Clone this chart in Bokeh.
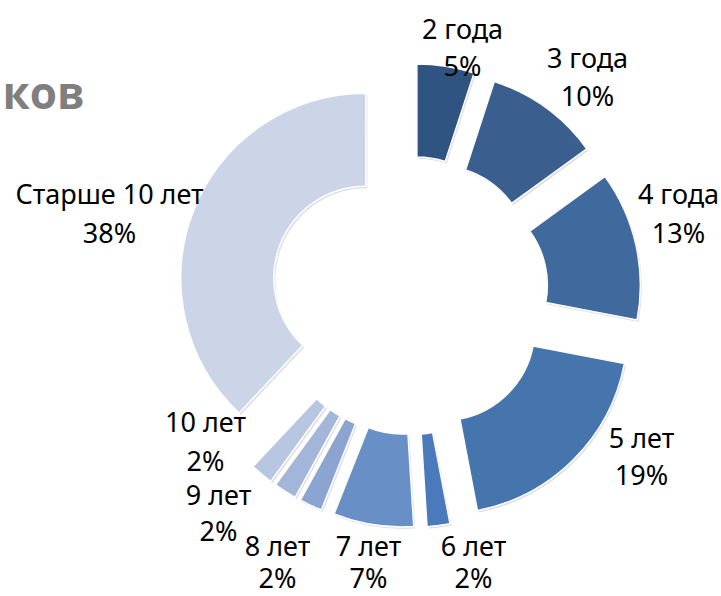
import math
from bokeh.plotting import figure
from bokeh.models import ColumnDataSource
from bokeh.core.properties import value
from bokeh.embed import file_html
from bokeh.resources import INLINE

# ---- data ----
categories = ["2 года", "3 года", "4 года", "5 лет", "6 лет", "7 лет",
              "8 лет", "9 лет", "10 лет", "Старше 10 лет"]
shares = [5, 10, 13, 19, 2, 7, 2, 2, 2, 38]
title_fragment = "ков"

# ---- style / layout ----
colors = ["#2F5481", "#3A5F8F", "#40699E", "#4674AC", "#4A7ABC",
          "#6890C7", "#8CA5D0", "#A3B6D9", "#B8C6E1", "#CBD5E7"]
W, H = 721, 596
CX, CY = 409, 295          # donut centre (screen px)
R_OUT, R_IN = 185, 92
EXPLODE = 47
FONT = "Noto Sans"
# label anchor points (screen px): centre x, first-line y, second-line y
label_x = [462, 587, 678, 641, 473, 368, 277, 218, 205, 109]
label_y1 = [28, 57, 193, 437, 545, 545, 545, 494, 421, 193]
label_y2 = [65, 95, 232, 474, 577, 577, 577, 530, 460, 232]


def sx(x):
    return x


def sy(y):
    return H - y


total = float(sum(shares))
xs, ys, starts, ends, sxs, sys_ = [], [], [], [], [], []
acc = 0.0
for v in shares:
    t0 = acc / total * 2 * math.pi
    t1 = (acc + v) / total * 2 * math.pi
    mid = (t0 + t1) / 2
    x = sx(CX) + EXPLODE * math.sin(mid)
    y = sy(CY) + EXPLODE * math.cos(mid)
    xs.append(x)
    ys.append(y)
    sxs.append(x + 1.5)
    sys_.append(y - 2)
    starts.append(math.pi / 2 - t0)
    ends.append(math.pi / 2 - t1)
    acc += v

src = ColumnDataSource(dict(x=xs, y=ys, sx=sxs, sy=sys_, start=starts,
                            end=ends, color=colors, cat=categories,
                            pct=[f"{v}%" for v in shares]))

p = figure(width=W, height=H, x_range=(0, W), y_range=(0, H),
           output_backend="svg", toolbar_location=None, min_border=0,
           outline_line_color=None, background_fill_color="white")
p.axis.visible = False
p.grid.visible = False

# soft shadow
p.annular_wedge(x="sx", y="sy", inner_radius=R_IN, outer_radius=R_OUT,
                start_angle="start", end_angle="end", direction="clock",
                fill_color="#000000", fill_alpha=0.12, line_color=None,
                source=src)
p.annular_wedge(x="x", y="y", inner_radius=R_IN, outer_radius=R_OUT,
                start_angle="start", end_angle="end", direction="clock",
                fill_color="color", line_color="white", line_width=1.5,
                source=src)

lab = ColumnDataSource(dict(x=[sx(v) for v in label_x],
                            y1=[sy(v) for v in label_y1],
                            y2=[sy(v) for v in label_y2],
                            cat=categories,
                            pct=[f"{v}%" for v in shares]))
for col, ycol in (("cat", "y1"), ("pct", "y2")):
    p.text(x="x", y=ycol, text=col, source=lab, text_font=value(FONT),
           text_font_size="27px", text_color="#000000",
           text_align="center", text_baseline="middle")

p.text(x=[sx(2)], y=[sy(91)], text=[title_fragment],
       text_font=value("Open Sans"), text_font_style="bold",
       text_font_size="44px", text_color="#7F7F7F",
       text_align="left", text_baseline="alphabetic")

open("out.html", "w").write(file_html(p, INLINE))
